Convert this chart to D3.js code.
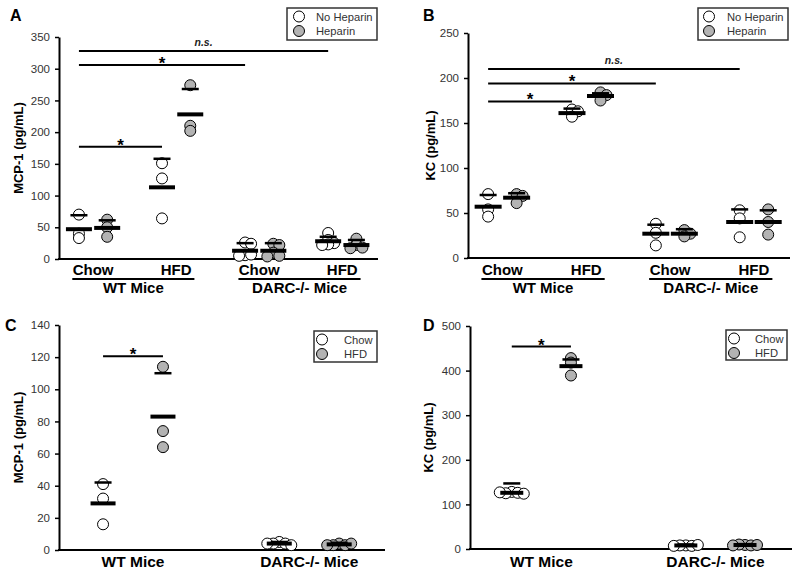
<!DOCTYPE html>
<html><head><meta charset="utf-8">
<script src="https://cdn.jsdelivr.net/npm/d3@7"></script>
<style>body{margin:0;background:#fff}svg{display:block}text{font-family:Arial,"Liberation Sans",sans-serif}</style>
</head><body><svg id="c" width="800" height="574"></svg>
<script>
// ---------------- DATA ----------------
const dietCats = ["Chow", "HFD", "Chow", "HFD"];
const mouseGroups = ["WT Mice", "DARC-/- Mice"];
const heparinSeries = ["No Heparin", "Heparin"];
const dietSeries = ["Chow", "HFD"];

// Panel A: MCP-1 (pg/mL), categories = WT Chow, WT HFD, DARC Chow, DARC HFD
const mcp1NoHep = [[70, 40, 33], [151, 127, 64], [26, 24, 6, 7, 5], [41, 30, 25, 23, 22]];
const mcp1NoHepMean = [47, 113, 13, 28];
const mcp1NoHepUpper = [69, 158, 25, 35];
const mcp1Hep = [[62, 50, 35], [274, 210, 202], [24, 22, 10, 5, 4], [32, 22, 18, 17]];
const mcp1HepMean = [49, 228, 13, 22];
const mcp1HepUpper = [61, 268, 25, 30];
const ticksA = [0, 50, 100, 150, 200, 250, 300, 350];

// Panel B: KC (pg/mL)
const kcNoHep = [[71, 54, 46], [165, 163, 157], [38, 28, 14], [53, 44, 23]];
const kcNoHepMean = [57, 161, 27, 40];
const kcNoHepUpper = [70, 166, 37, 54];
const kcHep = [[71, 69, 61], [184, 181, 175], [31, 27, 24], [54, 40, 26]];
const kcHepMean = [67, 180, 27, 40];
const kcHepUpper = [72, 183, 32, 53];
const ticksB = [0, 50, 100, 150, 200, 250];

// Panel C: MCP-1 (pg/mL), categories = WT Mice, DARC-/- Mice
const mcp1Chow = [[41, 32, 16], [5, 4, 4, 3, 4]];
const mcp1ChowMean = [29, 4];
const mcp1ChowUpper = [42, 5];
const mcp1HFD = [[114, 74, 64], [4, 3, 3, 4, 3]];
const mcp1HFDMean = [83, 3.5];
const mcp1HFDUpper = [110, 4.5];
const ticksC = [0, 20, 40, 60, 80, 100, 120, 140];

// Panel D: KC (pg/mL)
const kcChow = [[128, 126, 125, 124, 127], [8, 7, 8, 9, 7]];
const kcChowMean = [126, 8];
const kcChowUpper = [147, 10];
const kcHFD = [[428, 418, 389], [9, 8, 10, 9, 8]];
const kcHFDMean = [410, 9];
const kcHFDUpper = [425, 11];
const ticksD = [0, 100, 200, 300, 400, 500];

// significance brackets: [category, series] -> [category, series], value, label
const sigA = [
  { c1: 0, s1: 0, c2: 3, s2: 0, value: 328, label: "n.s." },
  { c1: 0, s1: 0, c2: 2, s2: 0, value: 306, label: "*" },
  { c1: 0, s1: 0, c2: 1, s2: 0, value: 177, label: "*" }
];
const sigB = [
  { c1: 0, s1: 0, c2: 3, s2: 0, value: 210, label: "n.s." },
  { c1: 0, s1: 0, c2: 2, s2: 0, value: 194, label: "*" },
  { c1: 0, s1: 0, c2: 1, s2: 0, value: 174, label: "*" }
];
const sigC = [{ c1: 0, s1: 0, c2: 0, s2: 1, value: 120.5, label: "*" }];
const sigD = [{ c1: 0, s1: 0, c2: 0, s2: 1, value: 454, label: "*" }];

// ---------------- DRAWING ----------------
const FONT = 'Arial, "Liberation Sans", sans-serif';
const GREY = "#b3b3b3";
const svg = d3.select("#c");

function swarm(ys, minD, step) {
  const placed = [];
  ys.forEach(yy => {
    const cands = [0];
    for (let i = 1; i < 6; i++) { cands.push(i * step, -i * step); }
    let dx = 0;
    for (const c of cands) {
      const ok = placed.every(p => Math.abs(p.y - yy) >= minD || Math.abs(p.dx - c) >= step * 0.9);
      if (ok) { dx = c; break; }
    }
    placed.push({ y: yy, dx });
  });
  return placed;
}

function drawPanel(o) {
  const g = svg.append("g");
  const x = d3.scaleLinear().domain(o.xDomain).range(o.xRange);
  const y = d3.scaleLinear().domain([0, o.yMax]).range(o.yRange);
  const pos = (c, s) => x(c + o.offsets[s]);

  // y axis
  const ax = g.append("g").attr("transform", `translate(${o.xRange[0]},0)`)
    .call(d3.axisLeft(y).tickValues(o.ticks).tickSize(4).tickSizeOuter(0).tickPadding(5));
  ax.attr("font-family", FONT).attr("font-size", 11.5);
  ax.select(".domain").attr("stroke", "#000").attr("stroke-width", 2);
  ax.selectAll(".tick line").attr("stroke", "#000").attr("stroke-width", 1.5);
  ax.selectAll(".tick text").attr("fill", "#333");

  // x axis line
  g.append("line").attr("x1", o.xRange[0] - 1).attr("x2", o.xRange[1])
    .attr("y1", y(0)).attr("y2", y(0)).attr("stroke", "#000").attr("stroke-width", 2);

  // points
  o.series.forEach((s, si) => {
    s.points.forEach((pts, ci) => {
      const cx = pos(ci, si);
      const placed = swarm(pts.map(v => y(v)), 4, 6);
      g.append("g").selectAll("circle").data(placed).join("circle")
        .attr("cx", d => cx + d.dx).attr("cy", d => d.y).attr("r", 5.5)
        .attr("fill", s.fill).attr("stroke", "#000").attr("stroke-width", 1);
    });
  });
  // mean + upper bars
  o.series.forEach((s, si) => {
    s.mean.forEach((m, ci) => {
      const cx = pos(ci, si);
      g.append("line").attr("x1", cx - o.upperW / 2).attr("x2", cx + o.upperW / 2)
        .attr("y1", y(s.upper[ci])).attr("y2", y(s.upper[ci]))
        .attr("stroke", "#000").attr("stroke-width", 2.5);
      g.append("line").attr("x1", cx - o.meanW / 2).attr("x2", cx + o.meanW / 2)
        .attr("y1", y(m)).attr("y2", y(m))
        .attr("stroke", "#000").attr("stroke-width", 4);
    });
  });

  // significance
  o.sig.forEach(sg => {
    const x1 = pos(sg.c1, sg.s1), x2 = pos(sg.c2, sg.s2), yy = y(sg.value);
    g.append("line").attr("x1", x1).attr("x2", x2).attr("y1", yy).attr("y2", yy)
      .attr("stroke", "#000").attr("stroke-width", 2);
    const t = g.append("text").attr("x", (x1 + x2) / 2).attr("text-anchor", "middle")
      .attr("font-weight", "bold").attr("fill", "#000").text(sg.label);
    if (sg.label === "*") t.attr("y", yy + 4).attr("font-size", 17);
    else t.attr("y", yy - 5).attr("font-size", 10.5).attr("font-style", "italic").attr("fill", "#222");
  });

  // category labels
  if (o.diets) {
    o.diets.forEach((d, i) => {
      g.append("text").attr("x", x(i)).attr("y", 275).attr("text-anchor", "middle")
        .attr("font-size", 15).attr("font-weight", "bold").text(d);
    });
    o.groups.forEach((gr, gi) => {
      const a = x(2 * gi - 0.25), b = x(2 * gi + 1.22);
      g.append("line").attr("x1", a).attr("x2", b).attr("y1", 279).attr("y2", 279)
        .attr("stroke", "#000").attr("stroke-width", 2);
      g.append("text").attr("x", (a + b) / 2).attr("y", 293).attr("text-anchor", "middle")
        .attr("font-size", 15).attr("font-weight", "bold").text(gr);
    });
  } else {
    o.groups.forEach((gr, gi) => {
      g.append("text").attr("x", x(gi)).attr("y", 567).attr("text-anchor", "middle")
        .attr("font-size", 15.5).attr("font-weight", "bold").text(gr);
    });
  }

  // y label
  const ym = (o.yRange[0] + o.yRange[1]) / 2;
  g.append("text").attr("transform", `translate(${o.yLabelX},${ym}) rotate(-90)`)
    .attr("text-anchor", "middle").attr("font-size", 13).attr("font-weight", "bold").text(o.yLabel);

  // panel letter
  g.append("text").attr("x", o.letterPos[0]).attr("y", o.letterPos[1])
    .attr("font-size", 16).attr("font-weight", "bold").text(o.letter);

  // legend
  const L = o.legend;
  g.append("rect").attr("x", L.x).attr("y", L.y).attr("width", L.w).attr("height", L.h)
    .attr("fill", "#fff").attr("stroke", "#333").attr("stroke-width", 1.5);
  o.series.forEach((s, si) => {
    const cy = L.y + 8.5 + si * 14.5;
    g.append("circle").attr("cx", L.cx).attr("cy", cy).attr("r", 5.5)
      .attr("fill", s.fill).attr("stroke", "#000").attr("stroke-width", 1);
    g.append("text").attr("x", L.tx).attr("y", cy + 4).attr("font-size", 11.2)
      .attr("fill", "#333").text(s.name);
  });
}

drawPanel({
  letter: "A", letterPos: [10, 21],
  xDomain: [-0.41, 3.43], xRange: [59, 378], yMax: 350, yRange: [259, 37], ticks: ticksA,
  offsets: [-0.17, 0.17], meanW: 26, upperW: 17,
  series: [
    { name: heparinSeries[0], fill: "#fff", points: mcp1NoHep, mean: mcp1NoHepMean, upper: mcp1NoHepUpper },
    { name: heparinSeries[1], fill: GREY, points: mcp1Hep, mean: mcp1HepMean, upper: mcp1HepUpper }
  ],
  sig: sigA, diets: dietCats, groups: mouseGroups,
  yLabel: "MCP-1 (pg/mL)", yLabelX: 23,
  legend: { x: 287, y: 8, w: 90, h: 32, cx: 299, tx: 316 }
});

drawPanel({
  letter: "B", letterPos: [423, 21],
  xDomain: [-0.41, 3.43], xRange: [468, 790], yMax: 250, yRange: [258, 33], ticks: ticksB,
  offsets: [-0.17, 0.17], meanW: 27, upperW: 17,
  series: [
    { name: heparinSeries[0], fill: "#fff", points: kcNoHep, mean: kcNoHepMean, upper: kcNoHepUpper },
    { name: heparinSeries[1], fill: GREY, points: kcHep, mean: kcHepMean, upper: kcHepUpper }
  ],
  sig: sigB, diets: dietCats, groups: mouseGroups,
  yLabel: "KC (pg/mL)", yLabelX: 435,
  legend: { x: 698, y: 8, w: 90, h: 32, cx: 709, tx: 727 }
});

drawPanel({
  letter: "C", letterPos: [5, 331],
  xDomain: [-0.42, 1.43], xRange: [59, 385], yMax: 140, yRange: [550, 325], ticks: ticksC,
  offsets: [-0.17, 0.17], meanW: 25, upperW: 17,
  series: [
    { name: dietSeries[0], fill: "#fff", points: mcp1Chow, mean: mcp1ChowMean, upper: mcp1ChowUpper },
    { name: dietSeries[1], fill: GREY, points: mcp1HFD, mean: mcp1HFDMean, upper: mcp1HFDUpper }
  ],
  sig: sigC, groups: mouseGroups,
  yLabel: "MCP-1 (pg/mL)", yLabelX: 23,
  legend: { x: 314, y: 331, w: 63, h: 31, cx: 322, tx: 344 }
});

drawPanel({
  letter: "D", letterPos: [423, 331],
  xDomain: [-0.41, 1.44], xRange: [470, 792], yMax: 500, yRange: [549, 326], ticks: ticksD,
  offsets: [-0.17, 0.17], meanW: 23, upperW: 17,
  series: [
    { name: dietSeries[0], fill: "#fff", points: kcChow, mean: kcChowMean, upper: kcChowUpper },
    { name: dietSeries[1], fill: GREY, points: kcHFD, mean: kcHFDMean, upper: kcHFDUpper }
  ],
  sig: sigD, groups: mouseGroups,
  yLabel: "KC (pg/mL)", yLabelX: 433,
  legend: { x: 726, y: 330, w: 61, h: 30, cx: 734, tx: 755 }
});
</script></body></html>
